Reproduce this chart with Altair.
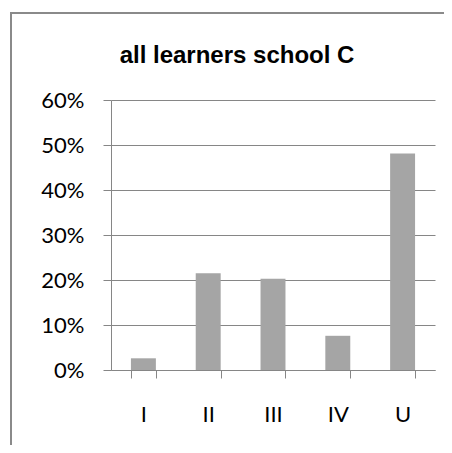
import altair as alt
import pandas as pd

categories = ["I", "II", "III", "IV", "U"]
shares = [0.026, 0.215, 0.203, 0.076, 0.481]
y_ticks = [0, 0.1, 0.2, 0.3, 0.4, 0.5, 0.6]
title_text = "all learners school C"

df = pd.DataFrame({"cat": categories, "share": shares})

GRID = "#868686"
BORDER = "#8a8a8a"
LABEL_FONT = "Lato"

bars = alt.Chart(df).mark_bar(color="#a5a5a5").encode(
    x=alt.X(
        "cat:N",
        sort=categories,
        title=None,
        scale=alt.Scale(paddingInner=0.615, paddingOuter=0.3075),
        axis=alt.Axis(
            labelAngle=0,
            labelFont=LABEL_FONT,
            labelFontSize=22,
            labelColor="black",
            labelPadding=26,
            tickBand="extent",
            tickSize=8,
            tickColor=GRID,
            domainColor=GRID,
            grid=False,
        ),
    ),
    y=alt.Y(
        "share:Q",
        title=None,
        scale=alt.Scale(domain=[0, 0.6], nice=False),
        axis=alt.Axis(
            values=y_ticks,
            format=".0%",
            labelFont=LABEL_FONT,
            labelFontSize=22,
            labelColor="black",
            labelPadding=19,
            tickSize=8,
            tickColor=GRID,
            domainColor=GRID,
            gridColor=GRID,
            grid=True,
        ),
    ),
)

border_top = alt.Chart(df).mark_rule(color=BORDER, strokeWidth=2).encode(
    x=alt.value(-100),
    x2=alt.value(345),
    y=alt.value(-87),
)
border_left = alt.Chart(df).mark_rule(color=BORDER, strokeWidth=2).encode(
    x=alt.value(-100),
    y=alt.value(-88),
    y2=alt.value(360),
)

chart = alt.layer(border_top, border_left, bars).properties(
    width=324,
    height=270,
    padding={"left": 103, "top": 92, "right": 9, "bottom": 75},
    autosize=alt.AutoSizeParams(type="none"),
    title=alt.TitleParams(
        text=title_text,
        font="Liberation Sans",
        fontSize=24,
        fontWeight="bold",
        color="black",
        anchor="middle",
        frame="group",
        dx=-36,
        baseline="alphabetic",
        offset=-76,
    ),
).configure_view(stroke=None)

chart.save("out.html", embed_options={"renderer": "svg", "actions": False})
